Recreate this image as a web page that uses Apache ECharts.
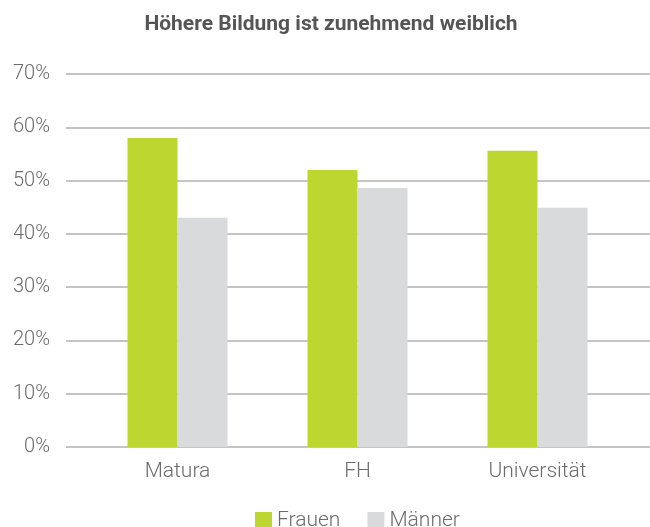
<!DOCTYPE html>
<html>
<head>
<meta charset="utf-8">
<script src="https://cdn.jsdelivr.net/npm/echarts@6/dist/echarts.min.js"></script>
<style>
  html, body { margin: 0; padding: 0; background: #fff; }
  #chart { width: 650px; height: 527px; }
</style>
</head>
<body>
<div id="chart"></div>
<script>
// data
var categories = ["Matura", "FH", "Universität"];
var frauen = [58.0, 52.0, 55.6];
var maenner = [43.0, 48.6, 44.9];
var yTicks = { min: 0, max: 70, interval: 10 };

var textColor = "#6b6b6b";
var fontFam = "Roboto, 'Noto Sans', sans-serif";

var myChart = echarts.init(document.getElementById("chart"));
myChart.setOption({
  animation: false,
  color: ["#bed630", "#d9dadc"],
  title: {
    text: "Höhere Bildung ist zunehmend weiblich",
    left: 326,
    top: 9,
    textAlign: "center",
    textStyle: {
      color: "#555555",
      fontSize: 21,
      fontWeight: "bold",
      fontFamily: fontFam
    }
  },
  legend: {
    left: 250,
    top: 505,
    itemWidth: 17,
    itemHeight: 17,
    itemGap: 27,
    icon: "rect",
    data: ["Frauen", "Männer"],
    textStyle: {
      color: textColor,
      fontSize: 21,
      fontWeight: 300,
      fontFamily: fontFam
    }
  },
  grid: [
    // gridlines + y labels, full width
    { left: 66, right: 0, top: 74, bottom: 80 },
    // bars
    { left: 87.5, right: 22.5, top: 74, bottom: 80 }
  ],
  xAxis: [
    { gridIndex: 0, type: "value", show: false },
    {
      gridIndex: 1,
      type: "category",
      data: categories,
      axisLine: { show: false },
      axisTick: { show: false },
      axisLabel: {
        margin: 14,
        color: textColor,
        fontSize: 21,
        fontWeight: 300,
        fontFamily: fontFam
      }
    }
  ],
  yAxis: [
    {
      gridIndex: 0,
      type: "value",
      min: yTicks.min,
      max: yTicks.max,
      interval: yTicks.interval,
      axisLine: { show: false },
      axisTick: { show: false },
      splitLine: { lineStyle: { color: "#b0b0b0", width: 1.5 } },
      axisLabel: {
        formatter: "{value}%",
        margin: 16,
        color: textColor,
        fontSize: 20,
        fontWeight: 300,
        fontFamily: fontFam
      }
    },
    {
      gridIndex: 1,
      type: "value",
      min: yTicks.min,
      max: yTicks.max,
      interval: yTicks.interval,
      show: false
    }
  ],
  series: [
    {
      name: "Frauen",
      type: "bar",
      xAxisIndex: 1,
      yAxisIndex: 1,
      data: frauen,
      barWidth: 50,
      barGap: "0%"
    },
    {
      name: "Männer",
      type: "bar",
      xAxisIndex: 1,
      yAxisIndex: 1,
      data: maenner,
      barWidth: 50,
      barGap: "0%"
    }
  ]
});
</script>
</body>
</html>
